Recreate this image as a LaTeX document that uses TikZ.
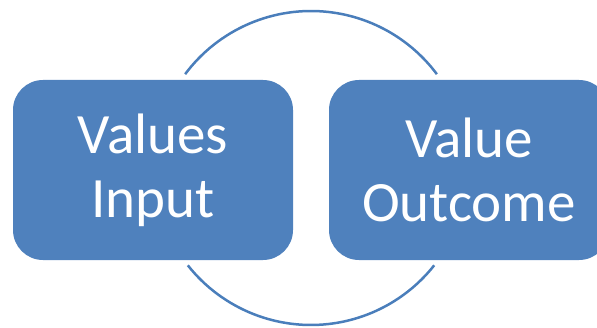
\documentclass[tikz,border=0pt]{standalone}
\usepackage{fontspec}
\setmainfont{Carlito}
\definecolor{boxblue}{HTML}{4F81BD}
\definecolor{ringblue}{HTML}{4A7EBB}
\tikzset{
  box/.style={fill=boxblue, draw=none, rounded corners=30pt,
    minimum width=280pt, minimum height=180pt, inner sep=0pt,
    text=white, align=center, font=\fontsize{57}{64}\selectfont},
  ring/.style={draw=ringblue, line width=2.5pt}
}
\begin{document}
\begin{tikzpicture}[x=1pt, y=1pt]
  \useasboundingbox (0,0) rectangle (597,327);
  % cycle ring behind the two boxes, broken where the boxes sit
  \coordinate (c) at (311,159);
  \draw[ring] (c) ++(143.3:157pt) arc[start angle=143.3, end angle=36.7, radius=157pt];
  \draw[ring] (c) ++(218.3:157pt) arc[start angle=218.3, end angle=321.7, radius=157pt];
  % the two stages
  \node[box] (input) at (153,157) {Values\\Input};
  \node[box] (outcome) at (469,157) {Value\\Outcome};
\end{tikzpicture}
\end{document}
